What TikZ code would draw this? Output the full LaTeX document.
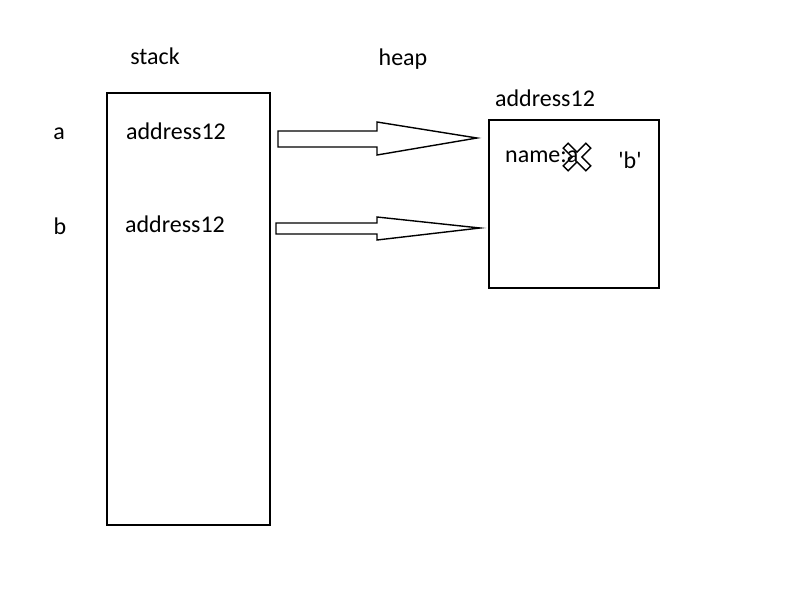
\documentclass[tikz,border=0pt]{standalone}
\usepackage{fontspec}
\setmainfont{Carlito}
\newfontfamily\plainfont{Carlito}
\begin{document}
\begin{tikzpicture}[x=1pt,y=-1pt,
  lbl/.style={font=\fontsize{24}{27}\selectfont, inner sep=0pt, anchor=center},
  box/.style={draw, line width=1.6pt},
  blockarrow/.style={draw, line width=1.4pt, line join=miter},
  xmark/.style={draw, line width=1.4pt, line join=miter}]
\useasboundingbox (0,0) rectangle (800,600);
% boxes
\node[box, minimum width=163pt, minimum height=432pt, inner sep=0pt, anchor=north west] (stack) at (106,92) {};
\node[box, minimum width=170pt, minimum height=168pt, inner sep=0pt, anchor=north west] (heapbox) at (488,119) {};
% labels
\node[lbl] (stacklbl) at (155,56) {stack};
\node[lbl] (heaplbl) at (403,59) {heap};
\node[lbl] (addrheap) at (545,98) {address12};
\node[lbl] (va) at (59,134) {a};
\node[lbl] (vb) at (60,226) {b};
\node[lbl] (addra) at (176,131) {address12};
\node[lbl] (addrb) at (175,224) {address12};
\node[lbl, anchor=west] (namelbl) at (505,157) {name:a};
\node[lbl] (bval) at (630,160) {\plainfont 'b'};
% block arrows
\draw[blockarrow] (278,131) -- (377,131) -- (377,122) -- (477,138) -- (377,155) -- (377,147) -- (278,147) -- cycle;
\draw[blockarrow] (276,223) -- (377,223) -- (377,217) -- (480,228) -- (377,240) -- (377,234) -- (276,234) -- cycle;
% cross mark
\begin{scope}[shift={(577,157)}, rotate=45]
\draw[xmark] (3.5,16) -- (3.5,3.5) -- (16,3.5) -- (16,-3.5) -- (3.5,-3.5) -- (3.5,-16) -- (-3.5,-16) -- (-3.5,-3.5) -- (-16,-3.5) -- (-16,3.5) -- (-3.5,3.5) -- (-3.5,16) -- cycle;
\end{scope}
\end{tikzpicture}
\end{document}
